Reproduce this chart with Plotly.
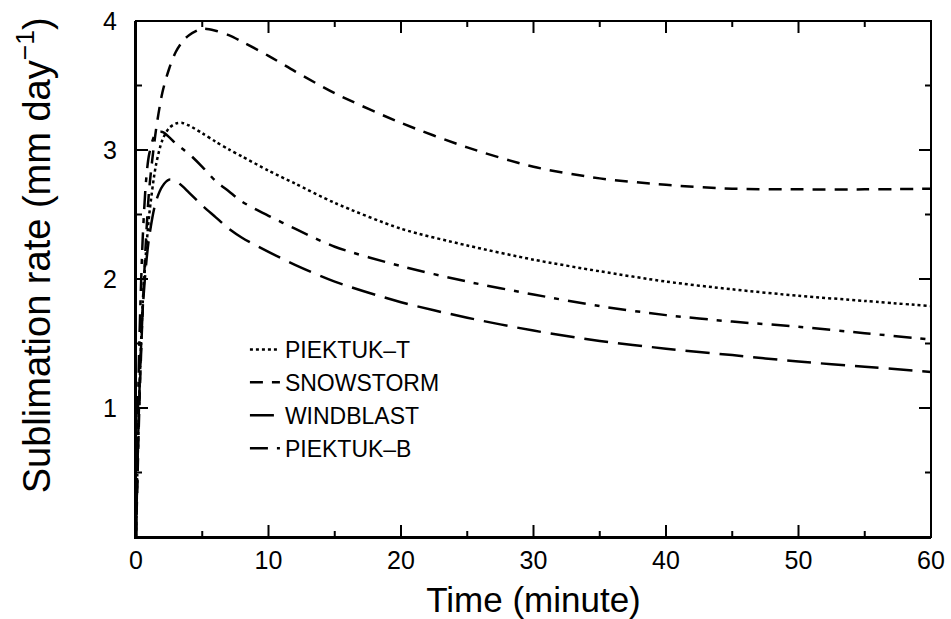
import plotly.graph_objects as go

# ---- data ----
time_min = [0, 0.1, 0.25, 0.5, 0.75, 1, 1.5, 2, 2.5, 3, 3.5, 4, 5, 6, 7, 8,
            10, 12, 15, 20, 25, 30, 35, 40, 45, 50, 55, 60]

piektuk_t = [0, 0.5, 1.1, 1.8, 2.2, 2.5, 2.88, 3.08, 3.17, 3.205, 3.21, 3.19,
             3.13, 3.065, 3.005, 2.95, 2.84, 2.74, 2.59, 2.39, 2.26, 2.15, 2.06,
             1.98, 1.92, 1.87, 1.83, 1.79]

snowstorm = [0, 0.4, 1.0, 1.75, 2.3, 2.7, 3.15, 3.45, 3.63, 3.76, 3.84, 3.89,
             3.94, 3.925, 3.89, 3.84, 3.73, 3.61, 3.44, 3.21, 3.02, 2.87, 2.78,
             2.73, 2.70, 2.695, 2.695, 2.70]

windblast = [0, 0.5, 1.1, 1.75, 2.1, 2.33, 2.6, 2.72, 2.77, 2.76, 2.72, 2.67,
             2.57, 2.48, 2.39, 2.32, 2.21, 2.11, 1.98, 1.82, 1.70, 1.60, 1.52,
             1.46, 1.41, 1.36, 1.32, 1.28]

piektuk_b = [0, 0.7, 1.5, 2.3, 2.75, 2.97, 3.13, 3.14, 3.10, 3.05, 3.01, 2.97,
             2.87, 2.76, 2.68, 2.60, 2.49, 2.39, 2.25, 2.10, 1.98, 1.88, 1.79,
             1.72, 1.67, 1.63, 1.58, 1.53]

series_names = ["PIEKTUK\u2013T", "SNOWSTORM", "WINDBLAST", "PIEKTUK\u2013B"]
series_values = [piektuk_t, snowstorm, windblast, piektuk_b]
series_dash = ["3px,3px", "13px,9px", "24px,10px", "18px,9px,5px,9px"]

# axes
x_range = [0, 60]
y_range = [0, 4]
x_major = [0, 10, 20, 30, 40, 50, 60]
x_minor = [5, 15, 25, 35, 45, 55]
y_major = [1, 2, 3, 4]
y_minor = [0.5, 1.5, 2.5, 3.5]

FONT = "Liberation Sans"
W, H = 951, 619
M_L, M_R, M_T, M_B = 136, 20, 21, 82
MAJOR_LEN, MINOR_LEN = 12, 6  # tick lengths in pixels

fig = go.Figure()
for name, vals, dash in zip(series_names, series_values, series_dash):
    fig.add_trace(go.Scatter(
        x=time_min, y=vals, name=name, mode="lines",
        line=dict(color="black", width=2.5, dash=dash, shape="spline", smoothing=0.8),
    ))

# inward tick marks on all four sides, built from the tick arrays
px_per_x = (W - M_L - M_R) / (x_range[1] - x_range[0])
px_per_y = (H - M_T - M_B) / (y_range[1] - y_range[0])
tx, ty = [], []
for vals, length in ((x_major, MAJOR_LEN), (x_minor, MINOR_LEN)):
    d = length / px_per_y
    for v in vals:
        tx += [v, v, None, v, v, None]
        ty += [y_range[0], y_range[0] + d, None, y_range[1], y_range[1] - d, None]
for vals, length in ((y_major, MAJOR_LEN), (y_minor, MINOR_LEN)):
    d = length / px_per_x
    for v in vals:
        tx += [x_range[0], x_range[0] + d, None, x_range[1], x_range[1] - d, None]
        ty += [v, v, None, v, v, None]
fig.add_trace(go.Scatter(x=tx, y=ty, mode="lines", line=dict(color="black", width=2),
                         showlegend=False, hoverinfo="skip", cliponaxis=False))

fig.update_xaxes(
    range=x_range, tickvals=x_major, ticks="",
    showgrid=False, zeroline=False, showline=True, linecolor="black", linewidth=2,
    tickfont=dict(family=FONT, size=25, color="black"),
    title=dict(text="Time (minute)", font=dict(family=FONT, size=35, color="black"),
               standoff=16),
)
fig.update_yaxes(
    range=y_range, tickvals=y_major, ticks="",
    showgrid=False, zeroline=False, showline=True, linecolor="black", linewidth=2,
    tickfont=dict(family=FONT, size=25, color="black"),
    ticklabelstandoff=12,
)

# plot frame (top and right edges)
fig.add_shape(type="rect", xref="paper", yref="paper", x0=0, y0=0, x1=1, y1=1,
              line=dict(color="black", width=2), fillcolor="rgba(0,0,0,0)")

# y-axis title as rotated text, positioned like the reference
fig.add_annotation(
    text="Sublimation rate (mm day<sup>\u22121</sup>)",
    xref="paper", yref="paper", x=-0.128, y=0.5465,
    xanchor="center", yanchor="middle", textangle=-90, showarrow=False,
    font=dict(family=FONT, size=38, color="black"),
)

fig.update_layout(
    width=W, height=H,
    margin=dict(l=M_L, r=M_R, t=M_T, b=M_B, autoexpand=False),
    paper_bgcolor="white", plot_bgcolor="white",
    showlegend=True,
    legend=dict(
        x=0.137, y=0.405, xanchor="left", yanchor="top",
        font=dict(family=FONT, size=23, color="black"),
        bgcolor="rgba(0,0,0,0)",
    ),
)

fig.write_html("out.html", config={"displayModeBar": False},
               post_script="document.body.style.margin='0';")
